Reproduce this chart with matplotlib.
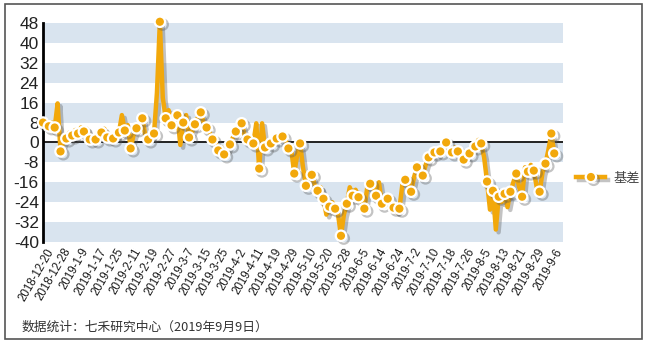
import matplotlib.pyplot as plt
import matplotlib.patheffects as pe
from matplotlib.patches import Rectangle
import numpy as np

plt.rcParams['font.family'] = ['Liberation Sans', 'Noto Sans CJK SC', 'DejaVu Sans']

# 基差, one value per trading day (2018-12-20 .. 2019-9-9)
basis = [
    8, 7, 6.5, 8, 6, 15.7, -3.6, 0, 1.6, 4,
    2.8, 5, 3.6, 6, 4.4, 5.5, 1.2, 2, 1.2, 2.5,
    4, 5.5, 2, 3, 1.6, 2, 4, 11, 4.8, 7,
    -2.4, 3, 5.7, 7, 9.7, 3, 1.2, 2, 3.6, 20,
    48.5, 18, 9.7, 13, 6.9, 9, 10.9, -1, 8, 11,
    2, 4, 7.3, 10, 12.1, 8, 6, 4, 1.2, 0,
    -3.2, -2, -4.8, -3, -0.8, 2, 4.4, 6, 7.7, 3,
    1.2, 2, -0.4, 7.7, -10.5, 7.7, -2, -1, -0.4, 1,
    1.6, 3, 2.4, 1, -2.4, -3, -12.5, -5, -0.4, -10,
    -17.4, -16, -13, -17, -19.4, -18, -22.6, -29, -25.8, -24,
    -26.6, -29, -37.5, -29, -24.6, -18, -21.4, -19, -22, -24,
    -26.6, -18, -16.6, -18, -21.4, -16, -24.6, -23, -22.6, -25,
    -26.2, -28, -26.6, -17, -15, -17, -19.8, -14, -10, -12,
    -13.3, -9, -6, -5, -4, -4.5, -3.6, -1, 0, -2,
    -4, -2, -3.6, -5, -6.9, -5, -4.4, -1, -1.6, 1,
    -0.4, -6, -15.7, -27, -19.4, -35, -21.8, -24, -20.6, -26,
    -19.8, -16, -12.5, -18, -21.8, -10, -11.7, -9, -11.3, -18,
    -19.8, -12, -8.5, -3, 3.6, -4.4,
]

tick_labels = [
    '2018-12-20', '2018-12-28', '2019-1-9', '2019-1-17', '2019-1-25',
    '2019-2-11', '2019-2-19', '2019-2-27', '2019-3-7', '2019-3-15',
    '2019-3-25', '2019-4-2', '2019-4-11', '2019-4-19', '2019-4-29',
    '2019-5-10', '2019-5-20', '2019-5-28', '2019-6-5', '2019-6-14',
    '2019-6-24', '2019-7-2', '2019-7-10', '2019-7-18', '2019-7-26',
    '2019-8-5', '2019-8-13', '2019-8-21', '2019-8-29', '2019-9-6',
]
yticks = np.arange(-40, 49, 8)

orange = '#F2A80B'
band = '#D9E4EF'

fig = plt.figure(figsize=(6.47, 3.44), dpi=100)
ax = fig.add_axes([43 / 647, 102 / 344, 520 / 647, 219 / 344])

# alternating bands
for k, lo in enumerate(range(-40, 48, 8)):
    if k % 2 == 0:
        ax.axhspan(lo, lo + 8, color=band, lw=0, zorder=0)
ax.axhline(0, color='#222222', lw=1.4, zorder=1)

x = np.arange(len(basis))
marks = list(range(0, len(basis), 2))
if marks[-1] != len(basis) - 1:
    marks.append(len(basis) - 1)
ax.plot(x, basis, color=orange, lw=3.2, marker='o', ms=7.5, mfc=orange,
        mec='white', mew=1.6, markevery=marks, label='基差', zorder=3,
        solid_joinstyle='round', clip_on=False,
        path_effects=[pe.SimpleLineShadow(offset=(2, -2), shadow_color='#555555', alpha=0.35),
                      pe.Normal()])

ax.set_xlim(0, 178)
ax.set_ylim(-40, 48)
ax.set_yticks(yticks)
ax.set_yticklabels([str(v) for v in yticks], fontsize=12.5, color='#222222')
ax.set_xticks(np.arange(len(tick_labels)) * 6 + 1)
ax.set_xticklabels(tick_labels, rotation=60, ha='right', rotation_mode='anchor',
                   fontsize=8.3, color='#1a1a1a')
ax.tick_params(axis='both', length=0, pad=3)
for s in ['top', 'right', 'bottom']:
    ax.spines[s].set_visible(False)
ax.spines['left'].set_linewidth(2)
ax.spines['left'].set_color('black')

leg = ax.legend(loc='center left', bbox_to_anchor=(1.008, 0.29), frameon=False,
                fontsize=9.5, handlelength=2.2, handletextpad=0.6,
                borderaxespad=0.3, markerscale=1.0)
for t in leg.get_texts():
    t.set_color('#444444')

fig.text(22 / 647, 17 / 344, '数据统计：七禾研究中心（2019年9月9日）',
         fontsize=9.2, color='#333333', family=['Noto Sans CJK SC', 'DejaVu Sans'],
         va='center')

fig.patches.append(Rectangle((5 / 647, 5 / 344), 637 / 647, 335 / 344,
                             transform=fig.transFigure, fill=False,
                             edgecolor='#555555', lw=1.2))

fig.savefig('out.png', dpi=100)
